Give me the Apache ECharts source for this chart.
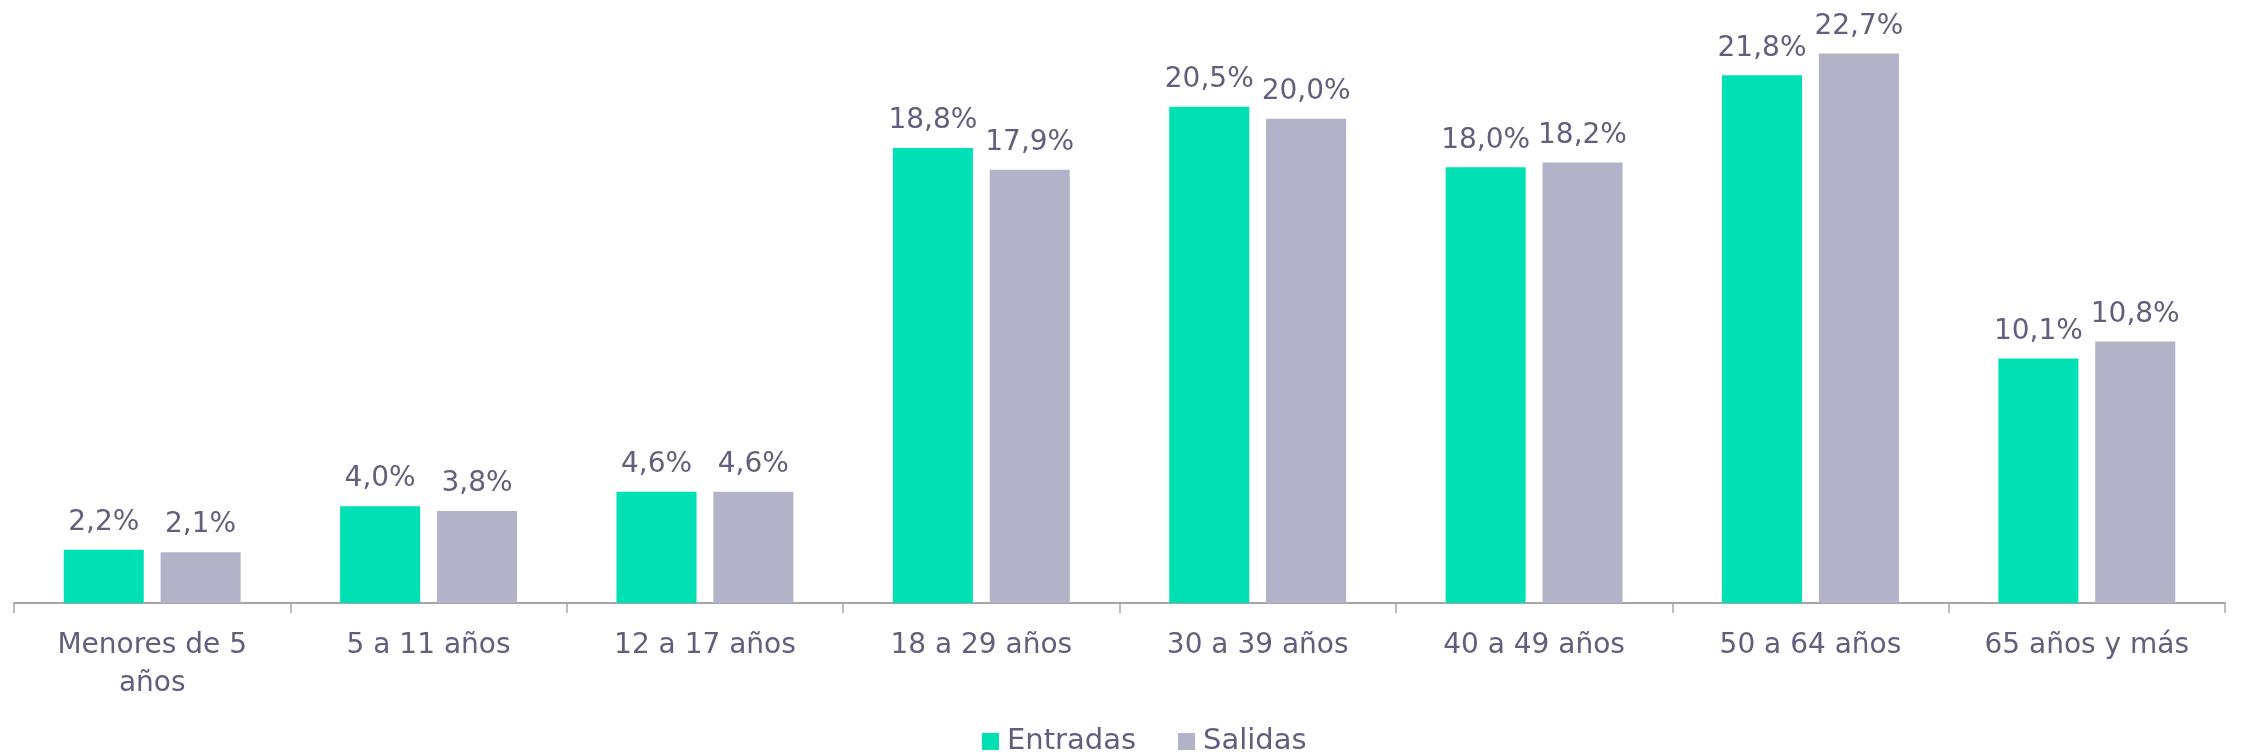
<!DOCTYPE html>
<html>
<head>
<meta charset="utf-8">
<script src="https://cdn.jsdelivr.net/npm/echarts@6/dist/echarts.min.js"></script>
<style>
  html, body { margin: 0; padding: 0; background: #fff; }
  #chart { width: 2242px; height: 755px; }
</style>
</head>
<body>
<div id="chart"></div>
<script>
const categories = ['Menores de 5\naños', '5 a 11 años', '12 a 17 años', '18 a 29 años', '30 a 39 años', '40 a 49 años', '50 a 64 años', '65 años y más']
const entradas = [2.2, 4.0, 4.6, 18.8, 20.5, 18.0, 21.8, 10.1]
const salidas = [2.1, 3.8, 4.6, 17.9, 20.0, 18.2, 22.7, 10.8]

const textColor = '#60607e'
const font = '"DejaVu Sans", sans-serif'

const chart = echarts.init(document.getElementById('chart'))

const labelStyle = {
  show: true,
  position: 'top',
  distance: 13,
  color: textColor,
  fontFamily: font,
  fontSize: 28,
  formatter: p => p.value.toFixed(1).replace('.', ',') + '%'
}

chart.setOption({
  animation: false,
  grid: { left: 14, right: 17, top: 22, bottom: 152, containLabel: false },
  legend: {
    top: 722,
    left: 977,
    itemWidth: 17,
    itemHeight: 17,
    itemGap: 42,
    icon: 'rect',
    textStyle: { color: textColor, fontFamily: font, fontSize: 29, padding: [0, 0, 0, 3] },
    data: ['Entradas', 'Salidas']
  },
  xAxis: {
    type: 'category',
    data: categories,
    axisLine: { lineStyle: { color: '#a6a6a6', width: 2 } },
    axisTick: { show: true, length: 10, lineStyle: { color: '#a6a6a6', width: 1.5 } },
    axisLabel: {
      color: textColor,
      fontFamily: font,
      fontSize: 28,
      margin: 24,
      lineHeight: 38,
      interval: 0
    }
  },
  yAxis: {
    type: 'value',
    min: 0,
    max: 24,
    show: false,
    splitLine: { show: false }
  },
  series: [
    {
      name: 'Entradas',
      type: 'bar',
      data: entradas,
      barGap: '21%',
      barCategoryGap: '36%',
      itemStyle: { color: '#00e0b5' },
      label: labelStyle
    },
    {
      name: 'Salidas',
      type: 'bar',
      data: salidas,
      itemStyle: { color: '#b2b3c8' },
      label: labelStyle
    }
  ]
})
</script>
</body>
</html>
